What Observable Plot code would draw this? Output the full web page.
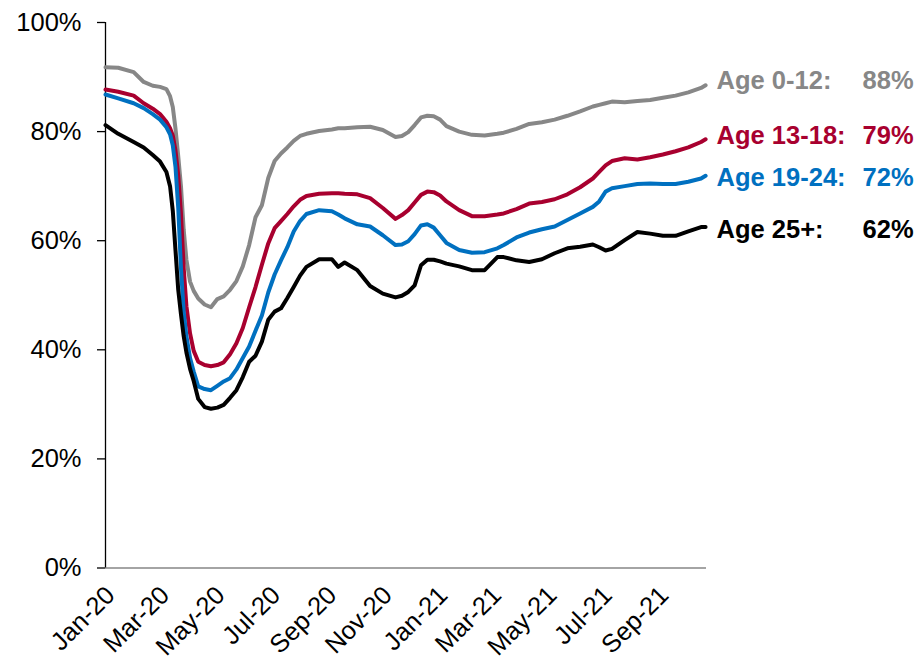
<!DOCTYPE html>
<html><head><meta charset="utf-8">
<script src="https://cdn.jsdelivr.net/npm/d3@7"></script>
<script src="https://cdn.jsdelivr.net/npm/@observablehq/plot@0.6"></script>
<style>body{margin:0;background:#fff} #chart svg{display:block}</style>
</head><body><div id="chart"></div>
<script>
const dates = ["2020-01-01","2020-01-15","2020-02-01","2020-02-12","2020-02-22","2020-03-01","2020-03-08","2020-03-12","2020-03-15","2020-03-18","2020-03-21","2020-03-24","2020-03-27","2020-03-30","2020-04-03","2020-04-07","2020-04-12","2020-04-19","2020-04-26","2020-05-03","2020-05-10","2020-05-17","2020-05-24","2020-05-31","2020-06-07","2020-06-14","2020-06-21","2020-06-28","2020-07-05","2020-07-12","2020-07-19","2020-07-26","2020-08-02","2020-08-09","2020-08-23","2020-09-06","2020-09-13","2020-09-20","2020-10-04","2020-10-18","2020-11-01","2020-11-15","2020-11-22","2020-11-29","2020-12-06","2020-12-13","2020-12-20","2020-12-27","2021-01-03","2021-01-10","2021-01-24","2021-02-07","2021-02-21","2021-03-07","2021-03-14","2021-03-28","2021-04-11","2021-04-25","2021-05-09","2021-05-23","2021-06-06","2021-06-20","2021-06-27","2021-07-04","2021-07-11","2021-07-25","2021-08-08","2021-08-22","2021-09-05","2021-09-19","2021-10-03","2021-10-17","2021-10-22"];

const age0_12 = [91.8,91.7,90.9,89.1,88.4,88.2,87.8,86.5,84.5,80.5,75.5,70,62,56.5,52.5,50.8,49.4,48.3,47.8,49.3,49.8,51,52.6,55.3,59.2,64.3,66.5,71.5,74.6,76,77.1,78.3,79.2,79.6,80.1,80.4,80.6,80.6,80.8,80.9,80.3,79.0,79.2,79.9,81.2,82.6,82.9,82.8,82.2,81.0,80.0,79.4,79.3,79.6,79.8,80.5,81.4,81.7,82.2,82.9,83.7,84.6,84.9,85.2,85.5,85.4,85.6,85.8,86.2,86.6,87.2,88.0,88.5];

const age13_18 = [87.7,87.3,86.6,85.2,84.2,83.2,81.8,80.6,79.3,76.5,72,65,55,48,43,39.8,37.8,37.2,37.0,37.2,37.7,39.2,41.2,44.0,47.8,51.5,55.6,59.5,62.3,63.6,64.9,66.3,67.5,68.2,68.6,68.7,68.7,68.6,68.5,67.8,66.0,64.0,64.7,65.6,67.0,68.4,69.0,68.9,68.3,67.2,65.6,64.5,64.5,64.8,65.0,65.8,66.8,67.1,67.6,68.5,69.8,71.4,72.6,73.8,74.6,75.1,74.9,75.3,75.8,76.4,77.1,78.1,78.6];

const age19_24 = [86.8,86.1,85.2,84.3,83.2,82.2,80.8,79.5,77.5,73.5,66,55,47,42.5,38.5,36.0,33.3,32.8,32.6,33.4,34.2,34.8,36.4,38.5,40.6,43.5,46.3,50.5,53.8,56.4,58.8,61.7,63.6,64.9,65.6,65.4,64.8,64.1,63.0,62.6,61.0,59.2,59.3,59.9,61.2,62.8,63.0,62.4,61.0,59.6,58.3,57.8,57.9,58.6,59.2,60.6,61.5,62.1,62.6,63.8,65.0,66.2,67.2,69.0,69.6,70.0,70.4,70.5,70.4,70.4,70.8,71.4,71.9];

const age25plus = [81.2,79.6,78.1,77.1,75.7,74.5,72.6,70.0,65.5,58.2,51,46.5,42.5,39.5,36.5,34.3,31,29.5,29.2,29.4,29.9,31.2,32.6,35.0,37.8,38.9,41.5,45.5,47.0,47.6,49.5,51.5,53.6,55.2,56.6,56.6,55.2,56.0,54.6,51.7,50.3,49.6,49.9,50.6,51.8,55.5,56.5,56.5,56.2,55.8,55.3,54.6,54.6,57.0,57.0,56.4,56.1,56.6,57.7,58.6,58.9,59.3,58.8,58.2,58.5,60.1,61.6,61.3,60.9,60.9,61.7,62.5,62.5];

const seriesNames = ["Age 0-12:", "Age 13-18:", "Age 19-24:", "Age 25+:"];
const finalLabels = ["88%", "79%", "72%", "62%"];
const tickDates = ["2020-01-01","2020-03-01","2020-05-01","2020-07-01","2020-09-01","2020-11-01","2021-01-01","2021-03-01","2021-05-01","2021-07-01","2021-09-01"];
const tickLabels = ["Jan-20","Mar-20","May-20","Jul-20","Sep-20","Nov-20","Jan-21","Mar-21","May-21","Jul-21","Sep-21"];
const yTicks = [0, 20, 40, 60, 80, 100];

// styling
const colors = ["#878787", "#A8002F", "#0070C0", "#000000"];
const labelDy = [-4, -3, 2, 3];
const FONT = "'Liberation Sans', Arial, sans-serif";

const parse = d3.utcParse("%Y-%m-%d");
const seriesValues = [age0_12, age13_18, age19_24, age25plus];
const seriesData = seriesValues.map(vals => vals.map((v, j) => ({date: parse(dates[j]), value: v})));
const ticks = tickDates.map((d, i) => ({date: parse(d), label: tickLabels[i]}));
const xDomain = [parse("2020-01-01"), parse("2021-10-23")];

const marks = [
  Plot.ruleY([0], {stroke: "#868686", strokeWidth: 1.3}),
  Plot.ruleX([xDomain[0]], {stroke: "#000", strokeWidth: 1.3}),
  Plot.axisY({ticks: yTicks, tickFormat: d => d + "%", tickSize: 8, tickPadding: 16, fontSize: 25.5, stroke: "#000", strokeWidth: 1.3, fill: "#000", label: null}),
  Plot.text(ticks, {x: "date", frameAnchor: "bottom", text: "label", rotate: -45, textAnchor: "end", lineAnchor: "middle", dx: 5, dy: 23, fontSize: 25.5, fill: "#000"})
];
seriesData.forEach((data, i) => {
  marks.push(Plot.lineY(data, {x: "date", y: "value", stroke: colors[i], strokeWidth: 4, strokeLinejoin: "round", strokeLinecap: "round"}));
});
seriesData.forEach((data, i) => {
  const last = [data[data.length - 1]];
  marks.push(Plot.text(last, {x: "date", y: "value", text: () => seriesNames[i], textAnchor: "start", dx: 11, dy: labelDy[i], fill: colors[i], fontSize: 25.5, fontWeight: "bold"}));
  marks.push(Plot.text(last, {x: "date", y: "value", text: () => finalLabels[i], textAnchor: "end", dx: 208, dy: labelDy[i], fill: colors[i], fontSize: 25.5, fontWeight: "bold"}));
});

const chart = Plot.plot({
  width: 922,
  height: 660,
  marginLeft: 105,
  marginRight: 216,
  marginTop: 22,
  marginBottom: 92.5,
  style: {fontFamily: FONT, background: "#fff", overflow: "visible"},
  x: {type: "utc", domain: xDomain, axis: null},
  y: {domain: [0, 100], axis: null},
  marks
});
document.getElementById("chart").appendChild(chart);
</script>
</body></html>
